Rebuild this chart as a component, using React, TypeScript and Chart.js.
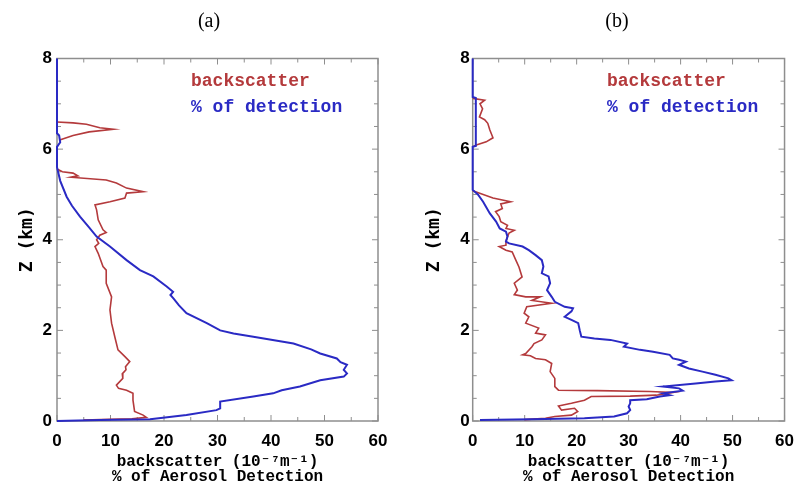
import React, { useEffect, useRef } from 'react';
import { Chart, registerables } from 'chart.js';
Chart.register(...registerables);

// ---------- DATA ----------
const xTickLabels = [0, 10, 20, 30, 40, 50, 60];
const yTickLabels = [0, 2, 4, 6, 8];
const xTitle = ['backscatter (10\u207B\u2077m\u207B\u00B9)', '% of Aerosol Detection'];
const yTitle = 'Z (km)';
const legendBackscatter = 'backscatter';
const legendDetection = '% of detection';

// Panel (a) – % of detection
const altA_det = [8.0, 6.35, 6.3, 6.15, 6.05, 5.6, 5.3, 4.95, 4.75, 4.51, 4.3, 4.07, 3.85, 3.55, 3.33, 3.19, 2.97, 2.85, 2.78, 2.7, 2.55, 2.38, 2.16, 2.0, 1.93, 1.86, 1.71, 1.58, 1.49, 1.38, 1.3, 1.24, 1.13, 1.05, 0.98, 0.9, 0.76, 0.68, 0.61, 0.54, 0.43, 0.28, 0.24, 0.13, 0.04, 0.02, 0.0];
const detA = [0, 0, 0.4, 0.6, 0, 0, 0.6, 1.8, 2.8, 4.3, 5.8, 7.4, 9.9, 13, 15.5, 18, 20.5, 21.7, 21.2, 21.8, 22.8, 24.2, 28, 30.5, 33, 36.7, 44.2, 47.5, 49.2, 52.3, 53, 54.2, 53.6, 54.2, 53.6, 49.2, 45.4, 42, 40.4, 36.7, 30.5, 30.5, 29.8, 24.2, 17.4, 8, 0];

// Panel (a) – backscatter
const altA_bs = [6.6, 6.58, 6.55, 6.47, 6.44, 6.38, 6.3, 6.2, 6.0, 5.56, 5.5, 5.47, 5.41, 5.38, 5.32, 5.25, 5.14, 5.06, 5.03, 4.92, 4.84, 4.77, 4.66, 4.44, 4.22, 4.16, 4.1, 4.0, 3.92, 3.85, 3.7, 3.41, 3.33, 3.04, 2.74, 2.45, 2.16, 1.86, 1.57, 1.42, 1.31, 1.2, 1.13, 1.04, 0.94, 0.79, 0.72, 0.68, 0.61, 0.46, 0.21, 0.13, 0.08, 0.05, 0.04, 0.02];
const bsA = [0, 3, 5.5, 8, 10.5, 6, 3, 0.5, null, 0, 1, 3, 3.9, 2.6, 9.2, 11.1, 13, 16.1, 13, 12.7, 9.9, 7.1, 7.4, 7.7, 8.6, 9.2, 8, 7.4, 7.8, 7.1, 7.7, 8.6, 9.2, 9.2, 10.2, 9.9, 10.2, 10.8, 11.4, 12.7, 13.6, 12.8, 12.9, 12.2, 12.3, 11.1, 11.5, 13, 14.2, 14.2, 14.5, 16.1, 16.7, 14, 9.9, 5];

// Panel (b) – % of detection
const altB_det = [8.0, 7.15, 7.13, 6.07, 6.05, 5.1, 5.0, 4.84, 4.58, 4.4, 4.25, 4.18, 4.07, 3.96, 3.92, 3.85, 3.77, 3.66, 3.55, 3.41, 3.26, 3.19, 3.04, 2.89, 2.74, 2.63, 2.52, 2.49, 2.42, 2.3, 2.23, 2.16, 2.0, 1.86, 1.82, 1.79, 1.71, 1.64, 1.57, 1.53, 1.46, 1.38, 1.35, 1.31, 1.24, 1.16, 1.09, 1.02, 0.94, 0.9, 0.87, 0.83, 0.76, 0.72, 0.67, 0.61, 0.57, 0.54, 0.48, 0.46, 0.39, 0.32, 0.24, 0.17, 0.1, 0.06, 0.04, 0.02];
const detB = [0, 0, 0.6, 0.6, 0, 0, 1, 2, 3.3, 4.5, 5.2, 6.4, 6.7, 6.4, 7, 9.6, 10.8, 12.1, 13.3, 13.6, 13.3, 14.6, 14.9, 14.3, 15.2, 15.8, 17.7, 19.3, 19, 17.7, 19, 20.3, 20.6, 20.9, 23.4, 26.5, 29.7, 29.1, 32.2, 34.7, 37.9, 38.5, 39.7, 41, 39.7, 41.6, 44.2, 46.7, 49.2, 49.8, 46.7, 42.9, 36.6, 39.7, 40.4, 36.6, 37.9, 36, 33.5, 30.3, 30.3, 30, 30.3, 29.7, 27.2, 21.5, 11.4, 1.4];

// Panel (b) – backscatter
const altB_bs = [7.12, 7.08, 7.0, 6.89, 6.71, 6.65, 6.57, 6.42, 6.25, 6.16, 6.09, 6.05, 5.5, 5.08, 4.92, 4.84, 4.79, 4.69, 4.62, 4.51, 4.4, 4.32, 4.25, 4.21, 4.15, 4.07, 3.96, 3.88, 3.85, 3.77, 3.73, 3.55, 3.4, 3.18, 3.04, 2.89, 2.79, 2.74, 2.74, 2.66, 2.6, 2.52, 2.38, 2.3, 2.16, 2.05, 1.94, 1.9, 1.79, 1.71, 1.64, 1.49, 1.46, 1.44, 1.38, 1.35, 1.27, 1.09, 0.94, 0.76, 0.68, 0.67, 0.65, 0.63, 0.57, 0.55, 0.54, 0.46, 0.39, 0.33, 0.24, 0.28, 0.21, 0.13, 0.1, 0.06, 0.03];
const bsB = [0, 2.3, 1.4, 1.9, 1.3, 2.3, 2.9, 3.3, 3.9, 2.6, 0.7, 0, null, 0, 3.9, 7.3, 5.4, 5.7, 4.4, 5.1, 5.4, 6.7, 6.4, 8, 7, 6.7, 6.4, 6.4, 5.1, 6.4, 7.6, 8.3, 8.9, 9.5, 8, 8.6, 8, 10.2, 13, 11.4, 15.2, 10.4, 9.9, 10.8, 10.2, 12.7, 12.1, 14, 13.3, 11.8, 11.4, 10.2, 9.6, 11.1, 12.1, 14, 15.2, 14.9, 15.8, 15.8, 16.5, 24, 34.1, 38.5, 35.3, 30.3, 22.8, 21.5, 19, 16.5, 17.1, 19.6, 20.2, 19, 15.8, 14, 10];

// ---------- STYLE ----------
const RED = '#b43a3c';
const BLUE = '#2a2ac4';
const FRAME = '#8e8e8e';

const framePlugin = {
  id: 'frameTicks',
  beforeDatasetsDraw(chart: any) {
    const { ctx, chartArea: a, scales } = chart;
    const x = scales.x, y = scales.y;
    ctx.save();
    ctx.strokeStyle = FRAME;
    ctx.lineWidth = 1.5;
    ctx.strokeRect(a.left, a.top, a.right - a.left, a.bottom - a.top);
    ctx.lineWidth = 1;
    ctx.beginPath();
    const xMin = xTickLabels[0], xMax = xTickLabels[xTickLabels.length - 1];
    for (let v = xMin; v <= xMax; v += 5) {
      const px = x.getPixelForValue(v);
      const len = v % 10 === 0 ? 6 : 4;
      ctx.moveTo(px, a.bottom); ctx.lineTo(px, a.bottom - len);
      ctx.moveTo(px, a.top); ctx.lineTo(px, a.top + len);
    }
    const yMin = yTickLabels[0], yMax = yTickLabels[yTickLabels.length - 1];
    for (let v = yMin; v <= yMax + 1e-9; v += 0.5) {
      const py = y.getPixelForValue(v);
      const len = Math.abs(v % 2) < 1e-9 ? 6 : 4;
      ctx.moveTo(a.left, py); ctx.lineTo(a.left + len, py);
      ctx.moveTo(a.right, py); ctx.lineTo(a.right - len, py);
    }
    ctx.stroke();
    ctx.restore();
  },
  afterDraw(chart: any) {
    const o = chart.options.plugins.frameTicks;
    const { ctx } = chart;
    ctx.save();
    ctx.fillStyle = '#000';
    ctx.font = '20px "Liberation Serif", serif';
    ctx.textAlign = 'center';
    ctx.textBaseline = 'middle';
    ctx.fillText(o.label, o.labelX, 22);
    ctx.textAlign = 'left';
    ctx.font = 'bold 18px "Liberation Mono", "DejaVu Sans Mono", monospace';
    ctx.fillStyle = RED;
    ctx.fillText(legendBackscatter, o.legX, 81);
    ctx.fillStyle = BLUE;
    ctx.fillText(legendDetection, o.legX, 107);
    ctx.restore();
  },
};

function pts(alt: number[], val: (number | null)[]) {
  return alt.map((z, i) => ({ x: val[i], y: z }));
}

type PanelProps = {
  left: number; width: number; yW: number; padR: number; yPad: number; yTitlePad: number;
  label: string; labelX: number; legX: number;
  alt1: number[]; det: number[]; alt2: number[]; bs: (number | null)[];
};

function Panel(p: PanelProps) {
  const ref = useRef<HTMLCanvasElement | null>(null);
  useEffect(() => {
    if (!ref.current) return;
    const tickFont = { family: '"Liberation Sans", Arial, sans-serif', weight: 'bold' as const, size: 17 };
    const chart = new Chart(ref.current, {
      type: 'scatter',
      data: {
        datasets: [
          { data: pts(p.alt1, p.det) as any, showLine: true, borderColor: BLUE, borderWidth: 2, pointRadius: 0, tension: 0, clip: false as any },
          { data: pts(p.alt2, p.bs) as any, showLine: true, borderColor: RED, borderWidth: 1.6, pointRadius: 0, tension: 0, clip: false as any, spanGaps: false },
        ],
      },
      options: {
        responsive: false,
        animation: false,
        events: [],
        layout: { padding: { left: 0, right: p.padR, top: 58.5, bottom: 0 } },
        plugins: {
          legend: { display: false },
          tooltip: { enabled: false },
          title: { display: false },
          frameTicks: { label: p.label, labelX: p.labelX, legX: p.legX },
        } as any,
        scales: {
          x: {
            type: 'linear', min: xTickLabels[0], max: xTickLabels[xTickLabels.length - 1],
            afterFit: (s: any) => { s.height = 66; },
            grid: { display: false, drawTicks: false },
            border: { display: false },
            ticks: { stepSize: 10, padding: 10, color: '#000', font: tickFont, maxRotation: 0, autoSkip: false },
            title: {
              display: true, text: xTitle, color: '#000',
              font: { family: '"Liberation Mono", "DejaVu Sans Mono", monospace', weight: 'bold', size: 16, lineHeight: 0.94 },
              padding: { top: 0, bottom: 2.5 },
            },
          },
          y: {
            type: 'linear', min: yTickLabels[0], max: yTickLabels[yTickLabels.length - 1],
            afterFit: (s: any) => { s.width = p.yW; },
            grid: { display: false, drawTicks: false },
            border: { display: false },
            ticks: { stepSize: 2, padding: p.yPad, color: '#000', font: tickFont, autoSkip: false },
            title: {
              display: true, text: yTitle, color: '#000',
              font: { family: '"DejaVu Sans Mono", monospace', weight: 'bold', size: 18, lineHeight: 1.2 },
              padding: { top: p.yTitlePad, bottom: 0 },
            },
          },
        },
      },
      plugins: [framePlugin],
    });
    return () => chart.destroy();
  }, []);
  return (
    <canvas ref={ref} width={p.width} height={487}
      style={{ position: 'absolute', left: p.left, top: 0, width: p.width, height: 487 }} />
  );
}

export default function App() {
  return (
    <div style={{ position: 'fixed', left: 0, top: 0, width: 804, height: 487, background: '#fff' }}>
      <Panel left={0} width={400} yW={57} padR={22} yPad={5} yTitlePad={17}
        label="(a)" labelX={209} legX={191}
        alt1={altA_det} det={detA} alt2={altA_bs} bs={bsA} />
      <Panel left={400} width={404} yW={72.7} padR={13.3} yPad={3} yTitlePad={24}
        label="(b)" labelX={217} legX={207}
        alt1={altB_det} det={detB} alt2={altB_bs} bs={bsB} />
    </div>
  );
}
